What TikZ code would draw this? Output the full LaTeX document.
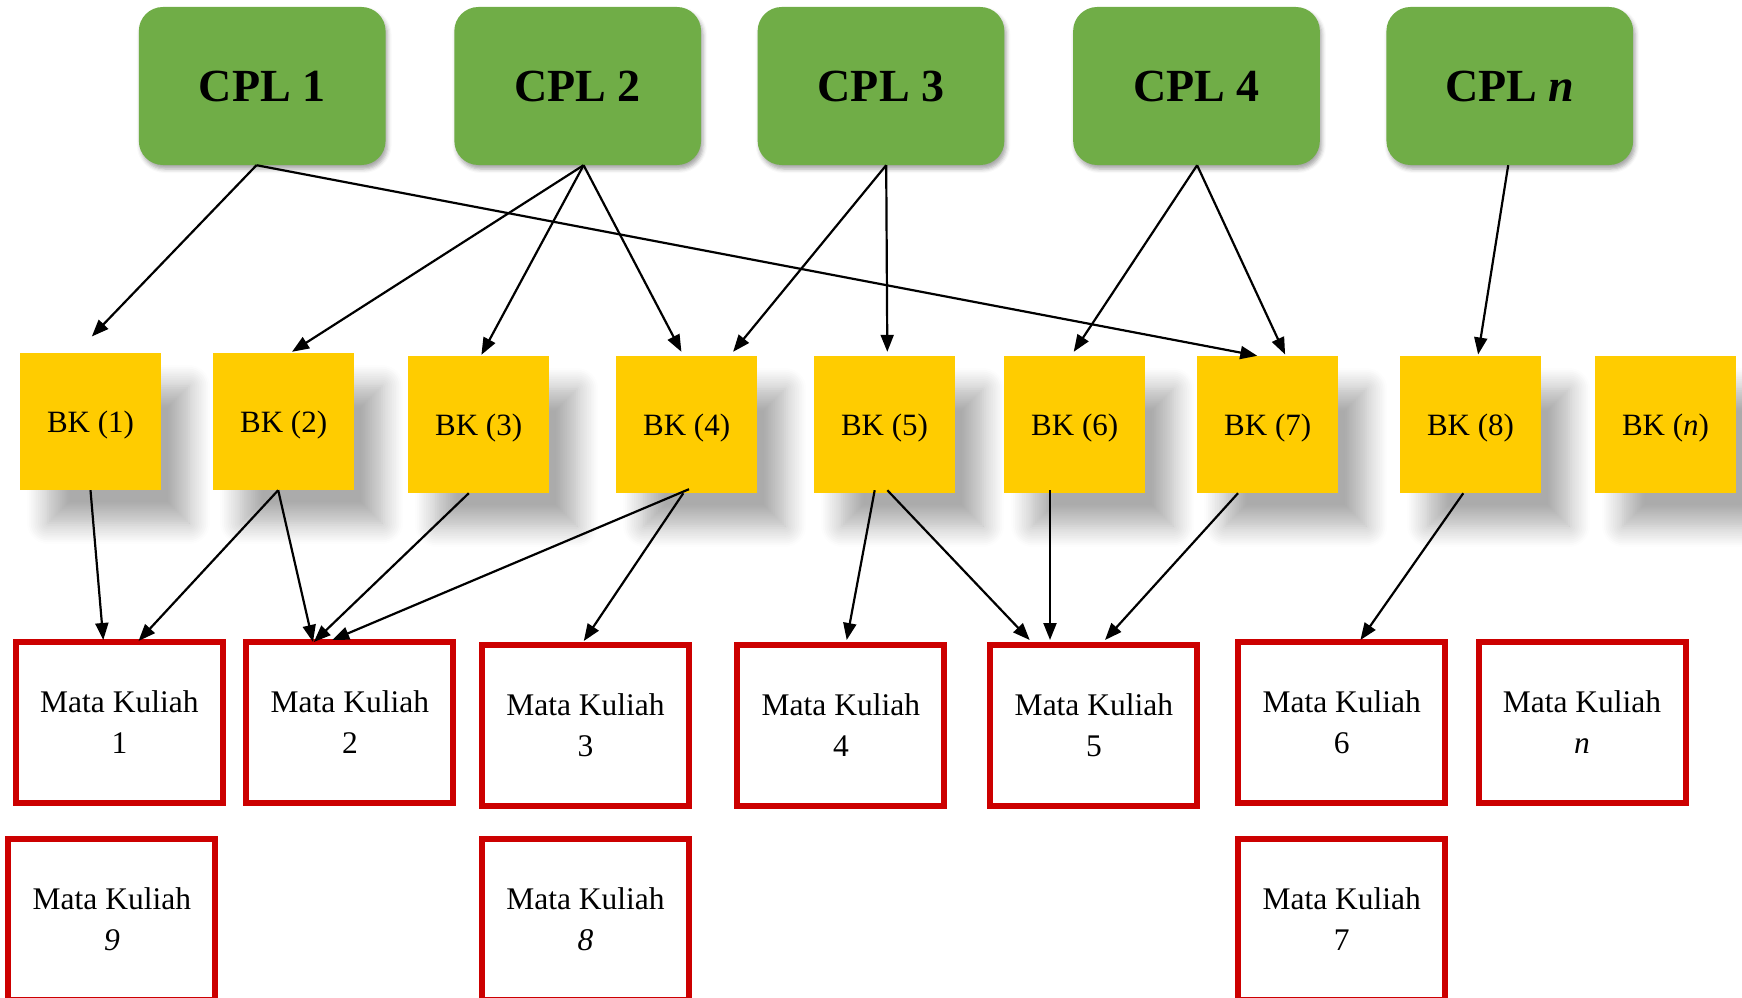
\documentclass[tikz,border=0pt]{standalone}
\usepackage{fontspec}
\setmainfont{Liberation Serif}
\usetikzlibrary{arrows.meta,calc,shadows.blur}
\definecolor{cplgreen}{HTML}{70AD47}
\definecolor{bkyellow}{HTML}{FFCC00}
\definecolor{mkred}{HTML}{CC0000}
\begin{document}
\begin{tikzpicture}[x=1pt,y=-1pt,
  cplbox/.style={rectangle, rounded corners=24pt, fill=cplgreen, minimum width=246.7pt, minimum height=158pt, inner sep=0pt,
    font=\fontsize{46}{50}\selectfont\bfseries,
    blur shadow={shadow xshift=2pt, shadow yshift=-4pt, shadow blur radius=4pt, shadow opacity=35}},
  bkbox/.style={rectangle, fill=bkyellow, minimum width=141pt, minimum height=137pt, inner sep=0pt,
    text depth=0pt, font=\fontsize{31}{36}\selectfont,
    blur shadow={shadow xshift=28pt, shadow yshift=-33pt, shadow blur radius=21pt, shadow blur steps=12, shadow opacity=33}},
  mkbox/.style={rectangle, draw=mkred, line width=6pt, fill=white, minimum width=207pt, minimum height=161pt, inner sep=0pt,
    align=center, font=\fontsize{31.5}{41}\selectfont},
  conn/.style={line width=2.2pt, -{Triangle[length=17pt,width=13pt]}}
]
\path[use as bounding box] (0,0) rectangle (1742,998);
\clip (0,0) rectangle (1742,998);

% CPL row
\node[cplbox] (cpl1) at (262.2,86) {CPL 1};
\node[cplbox] (cpl2) at (577.7,86) {CPL 2};
\node[cplbox] (cpl3) at (881,86) {CPL 3};
\node[cplbox] (cpl4) at (1196.5,86) {CPL 4};
\node[cplbox] (cpln) at (1509.8,86) {CPL \textit{n}};

% BK row
\node[bkbox] (bk1) at (90.5,421.5) {BK (1)};
\node[bkbox] (bk2) at (283.6,421.5) {BK (2)};
\node[bkbox] (bk3) at (478.6,424.5) {BK (3)};
\node[bkbox] (bk4) at (686.6,424.5) {BK (4)};
\node[bkbox] (bk5) at (884.5,424.5) {BK (5)};
\node[bkbox] (bk6) at (1074.7,424.5) {BK (6)};
\node[bkbox] (bk7) at (1267.7,424.5) {BK (7)};
\node[bkbox] (bk8) at (1470.5,424.5) {BK (8)};
\node[bkbox] (bkn) at (1665.5,424.5) {BK (\textit{n})};

% Mata Kuliah row
\node[mkbox] (mk1) at (119.4,722.5) {Mata Kuliah\\1};
\node[mkbox] (mk2) at (349.9,722.5) {Mata Kuliah\\2};
\node[mkbox] (mk3) at (585.5,725.5) {Mata Kuliah\\3};
\node[mkbox] (mk4) at (840.9,725.5) {Mata Kuliah\\4};
\node[mkbox] (mk5) at (1093.9,725.5) {Mata Kuliah\\5};
\node[mkbox] (mk6) at (1341.7,722.5) {Mata Kuliah\\6};
\node[mkbox] (mkn) at (1582,722.5) {Mata Kuliah\\\textit{n}};
\node[mkbox] (mk9) at (111.9,919.5) {Mata Kuliah\\\textit{9}};
\node[mkbox] (mk8) at (585.5,919.5) {Mata Kuliah\\\textit{8}};
\node[mkbox] (mk7) at (1341.7,919.5) {Mata Kuliah\\7};

% CPL -> BK
\draw[conn] ($(cpl1.south)+(-5.7,0)$) -- ($(bk1.north)+(1.3,-16.3)$);
\draw[conn] ($(cpl1.south)+(-5.7,0)$) -- ($(bk7.north)+(-10.4,0)$);
\draw[conn] ($(cpl2.south)+(5.9,0)$) -- ($(bk2.north)+(8.4,-1)$);
\draw[conn] ($(cpl2.south)+(5.9,0)$) -- ($(bk3.north)+(2.8,-1)$);
\draw[conn] ($(cpl2.south)+(5.9,0)$) -- ($(bk4.north)+(-5.2,-4)$);
\draw[conn] ($(cpl3.south)+(5.2,0)$) -- ($(bk4.north)+(46.5,-4)$);
\draw[conn] ($(cpl3.south)+(5.2,0)$) -- ($(bk5.north)+(2.8,-4)$);
\draw[conn] ($(cpl4.south)+(0.6,0)$) -- ($(bk6.north)+(-1,-4)$);
\draw[conn] ($(cpl4.south)+(0.6,0)$) -- ($(bk7.north)+(17.4,-1.3)$);
\draw[conn] ($(cpln.south)+(-1.6,0)$) -- ($(bk8.north)+(7.6,-1.3)$);

% BK -> Mata Kuliah
\draw[conn] (bk1.south) -- ($(mk1.north)+(-16.1,1)$);
\draw[conn] ($(bk2.south)+(-5.4,0)$) -- ($(mk1.north)+(19.1,2)$);
\draw[conn] ($(bk2.south)+(-5.4,0)$) -- ($(mk2.north)+(-36.9,3)$);
\draw[conn] ($(bk3.south)+(-9.8,0)$) -- ($(mk2.north)+(-36.1,3)$);
\draw[conn] ($(bk4.south)+(2.4,-4)$) -- ($(mk2.north)+(-17.7,1)$);
\draw[conn] ($(bk4.south)+(-3.3,0)$) -- ($(mk3.north)+(-1.7,-1)$);
\draw[conn] ($(bk5.south)+(-9.8,-3)$) -- ($(mk4.north)+(5.8,-2)$);
\draw[conn] ($(bk5.south)+(2.8,-3)$) -- ($(mk5.north)+(-64.2,-2)$);
\draw[conn] ($(bk6.south)+(-24.7,-3)$) -- ($(mk5.north)+(-43.9,-2)$);
\draw[conn] ($(bk7.south)+(-29.7,0)$) -- ($(mk5.north)+(11.1,-2)$);
\draw[conn] ($(bk8.south)+(-7.2,0)$) -- ($(mk6.north)+(18.7,1)$);
\end{tikzpicture}
\end{document}
